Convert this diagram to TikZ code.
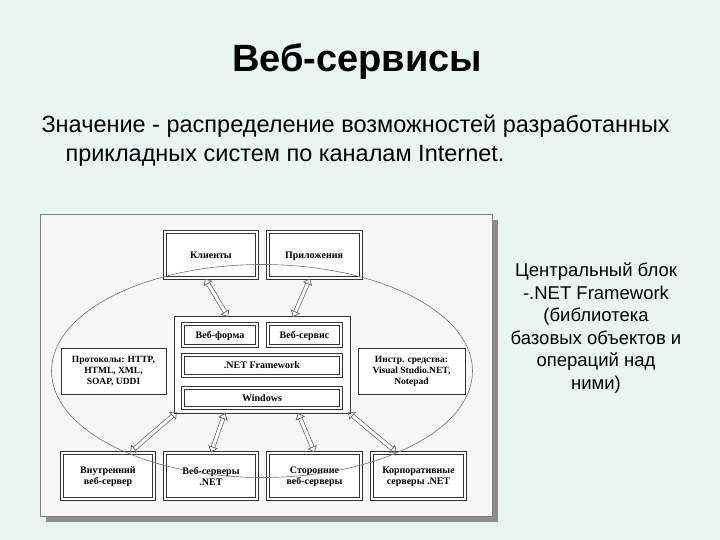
\documentclass[tikz,border=0pt]{standalone}
\usepackage{fontspec}
\setmainfont{Liberation Sans}
\newfontfamily\dserif{Liberation Serif}
\usetikzlibrary{arrows.meta,shapes.geometric}
\definecolor{bg}{RGB}{232,247,242}
\begin{document}
\begin{tikzpicture}[x=1pt,y=-1pt,
  box/.style={draw=black!80,double=white,double distance=2pt,line width=1pt,fill=white,font=\dserif\bfseries\fontsize{10}{11}\selectfont,align=center,inner sep=1pt,text depth=0pt},
  plain/.style={draw=black!80,line width=0.7pt,fill=white,font=\dserif\bfseries\fontsize{9.5}{11}\selectfont,align=center,inner sep=1pt},
  dar/.style={draw=black!60,double=white,double distance=3pt,line width=0.7pt,{Triangle[open,length=6pt,width=10pt]}-{Triangle[open,length=6pt,width=10pt]}}]
\fill[bg] (0,0) rectangle (720,540);
\node[font=\bfseries\fontsize{38}{42}\selectfont] (title) at (357,62) {Веб-сервисы};
\node[anchor=west,font=\fontsize{23.5}{26}\selectfont] (l1) at (38,126) {Значение - распределение возможностей разработанных};
\node[anchor=west,font=\fontsize{23.5}{26}\selectfont] (l2) at (62,156) {прикладных систем по каналам Internet.};
\node[align=center,font=\fontsize{18.5}{22.5}\selectfont] (rt) at (596,328) {Центральный блок\\-.NET Framework\\(библиотека\\базовых объектов и\\операций над\\ними)};
% panel
\fill[black!45] (46,220) rectangle (498,522);
\draw[black!50,fill=white!97!black] (40,214) rectangle (492,516);
% boxes
\node[box,minimum width=92,minimum height=46] (kl) at (211,255) {Клиенты};
\node[box,minimum width=93,minimum height=46] (pr) at (314,255) {Приложения};
\node[plain,minimum width=176,minimum height=97] (cen) at (262,364.5) {};
\node[box,minimum width=74,minimum height=22] (wf) at (220,335) {Веб-форма};
\node[box,minimum width=73,minimum height=22] (ws) at (304.5,335) {Веб-сервис};
\node[box,minimum width=158,minimum height=21] (nf) at (262,365.5) {.NET Framework};
\node[box,minimum width=158,minimum height=20] (win) at (262,398) {Windows};
\node[plain,minimum width=105,minimum height=46] (prot) at (113.5,371) {Протоколы: HTTP,\\HTML, XML,\\SOAP, UDDI};
\node[plain,minimum width=107,minimum height=46] (ins) at (411.5,371) {Инстр. средства:\\Visual Studio.NET,\\Notepad};
\node[box,minimum width=92,minimum height=46] (b1) at (108,476) {Внутренний\\веб-сервер};
\node[box,minimum width=92,minimum height=46] (b2) at (211,476) {Веб-серверы\\.NET};
\node[box,minimum width=93,minimum height=46] (b3) at (314.5,476) {Сторонние\\веб-серверы};
\node[box,minimum width=93,minimum height=46] (b4) at (418.5,476) {Корпоративные\\серверы .NET};
% arrows
\coordinate (c1) at (228,317);
\coordinate (c2) at (293,317);
\coordinate (c3) at (177,412);
\coordinate (c4) at (225,413);
\coordinate (c5) at (298,413);
\coordinate (c6) at (348,412);
\draw[dar] ([xshift=-6pt]kl.south) -- (c1);
\draw[dar] ([xshift=-4pt]pr.south) -- (c2);
\draw[dar] (c3) -- ([xshift=22pt]b1.north);
\draw[dar] (c4) -- (b2.north);
\draw[dar] (c5) -- (b3.north);
\draw[dar] (c6) -- ([xshift=-22pt]b4.north);
\node[draw=black!55,line width=0.6pt,ellipse,minimum width=421,minimum height=213] (el) at (262,371) {};
\end{tikzpicture}
\end{document}
